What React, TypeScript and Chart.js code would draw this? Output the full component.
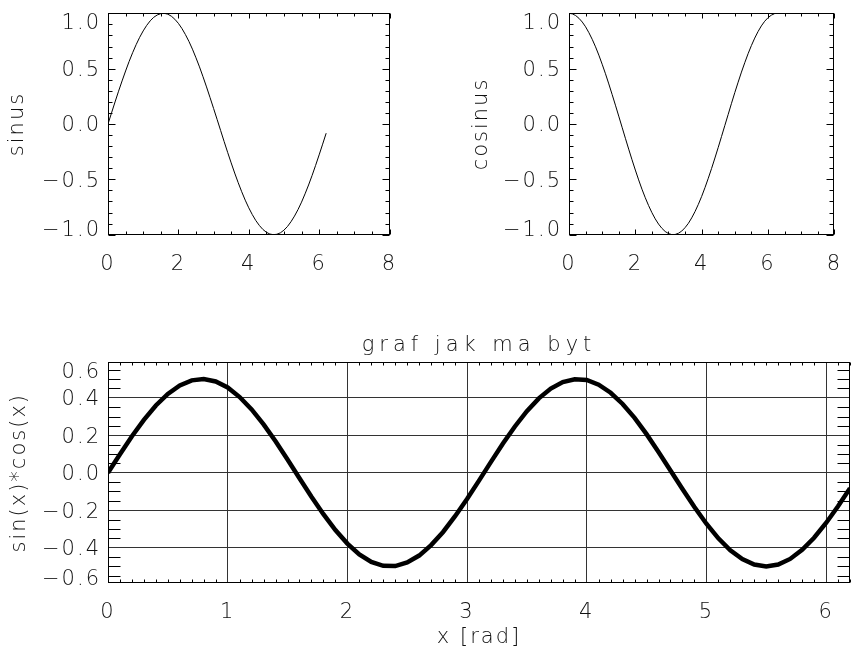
import React, { useEffect, useRef } from 'react';
import { Chart, registerables } from 'chart.js';

Chart.register(...registerables);

// ---------------- data ----------------
const xRad = [
  0, 0.1, 0.2, 0.3, 0.4, 0.5, 0.6, 0.7, 0.8, 0.9, 1.0, 1.1, 1.2, 1.3, 1.4, 1.5,
  1.6, 1.7, 1.8, 1.9, 2.0, 2.1, 2.2, 2.3, 2.4, 2.5, 2.6, 2.7, 2.8, 2.9, 3.0, 3.1,
  3.2, 3.3, 3.4, 3.5, 3.6, 3.7, 3.8, 3.9, 4.0, 4.1, 4.2, 4.3, 4.4, 4.5, 4.6, 4.7,
  4.8, 4.9, 5.0, 5.1, 5.2, 5.3, 5.4, 5.5, 5.6, 5.7, 5.8, 5.9, 6.0, 6.1, 6.2,
];

const sinus = [
  0, 0.1, 0.199, 0.296, 0.389, 0.479, 0.565, 0.644, 0.717, 0.783, 0.841, 0.891, 0.932, 0.964, 0.985, 0.997,
  1.0, 0.992, 0.974, 0.946, 0.909, 0.863, 0.808, 0.746, 0.676, 0.598, 0.516, 0.427, 0.335, 0.239, 0.141, 0.042,
  -0.058, -0.158, -0.256, -0.351, -0.443, -0.53, -0.612, -0.688, -0.757, -0.818, -0.872, -0.916, -0.952, -0.978, -0.994, -1.0,
  -0.996, -0.983, -0.959, -0.926, -0.883, -0.832, -0.773, -0.706, -0.631, -0.551, -0.465, -0.374, -0.279, -0.182, -0.083,
];

const cosinus = [
  1.0, 0.995, 0.98, 0.955, 0.921, 0.878, 0.825, 0.765, 0.697, 0.622, 0.54, 0.454, 0.362, 0.267, 0.17, 0.071,
  -0.029, -0.129, -0.227, -0.323, -0.416, -0.505, -0.589, -0.666, -0.737, -0.801, -0.857, -0.904, -0.942, -0.971, -0.99, -0.999,
  -0.998, -0.987, -0.967, -0.936, -0.897, -0.848, -0.791, -0.726, -0.654, -0.575, -0.49, -0.401, -0.307, -0.211, -0.112, -0.012,
  0.087, 0.187, 0.284, 0.378, 0.469, 0.554, 0.635, 0.709, 0.776, 0.835, 0.886, 0.928, 0.96, 0.983, 0.997,
];

const sinTimesCos = [
  0, 0.099, 0.195, 0.282, 0.359, 0.421, 0.466, 0.493, 0.5, 0.487, 0.455, 0.404, 0.338, 0.258, 0.168, 0.071,
  -0.029, -0.128, -0.221, -0.306, -0.378, -0.436, -0.476, -0.497, -0.498, -0.479, -0.442, -0.386, -0.316, -0.232, -0.14, -0.042,
  0.058, 0.156, 0.247, 0.329, 0.397, 0.449, 0.484, 0.499, 0.495, 0.47, 0.427, 0.367, 0.293, 0.206, 0.111, 0.012,
  -0.087, -0.183, -0.272, -0.35, -0.414, -0.461, -0.49, -0.5, -0.49, -0.46, -0.411, -0.347, -0.268, -0.179, -0.083,
];

// ---------------- ticks / labels ----------------
const topXTicks = [0, 2, 4, 6, 8];
const topXLabels = ['0', '2', '4', '6', '8'];
const topYTicks = [-1, -0.5, 0, 0.5, 1];
const topYLabels = ['\u22121.0', '\u22120.5', '0.0', '0.5', '1.0'];

const botXTicks = [0, 1, 2, 3, 4, 5, 6];
const botXLabels = ['0', '1', '2', '3', '4', '5', '6'];
const botYTicks = [-0.6, -0.4, -0.2, 0, 0.2, 0.4, 0.6];
const botYLabels = ['\u22120.6', '\u22120.4', '\u22120.2', '0.0', '0.2', '0.4', '0.6'];

const mainTitle = 'graf jak ma byt';
const botXTitle = 'x [rad]';
const yTitleSin = 'sinus';
const yTitleCos = 'cosinus';
const yTitleProd = 'sin(x)*cos(x)';

// ---------------- styling ----------------
const FAMILY = '"DejaVu Sans ExtraLight", "DejaVu Sans", sans-serif';
const FWEIGHT = 200;
const FSIZE = 21;
const TEXT = '#111';

const idlPlugin = {
  id: 'idl',
  beforeDraw(chart: any) {
    (chart.ctx as any).letterSpacing = '2px';
  },
  beforeDatasetsDraw(chart: any, _args: any, o: any) {
    const { ctx, chartArea: a } = chart;
    const x = chart.scales.x;
    const y = chart.scales.y;
    ctx.save();
    ctx.strokeStyle = '#000';
    ctx.lineWidth = 1;
    const L = Math.round(a.left) + 0.5;
    const R = Math.round(a.right) - 0.5;
    const T = Math.round(a.top) + 0.5;
    const B = Math.round(a.bottom) - 0.5;
    const walk = (min: number, max: number, step: number, major: number, cb: (v: number, maj: boolean) => void) => {
      const i0 = Math.ceil(min / step - 1e-6);
      const i1 = Math.floor(max / step + 1e-6);
      for (let i = i0; i <= i1; i++) {
        const v = i * step;
        const r = v / major;
        cb(v, Math.abs(r - Math.round(r)) < 1e-6);
      }
    };
    ctx.beginPath();
    walk(x.min, x.max, o.xMinor, o.xMajor, (v, maj) => {
      const len = maj ? o.xMajLen : o.xMinLen;
      if (!len) return;
      const p = Math.round(x.getPixelForValue(v)) + 0.5;
      ctx.moveTo(p, B);
      ctx.lineTo(p, B - len);
      ctx.moveTo(p, T);
      ctx.lineTo(p, T + len);
    });
    walk(y.min, y.max, o.yMinor, o.yMajor, (v, maj) => {
      const len = maj ? o.yMajLen : o.yMinLen;
      if (!len) return;
      const p = Math.round(y.getPixelForValue(v)) + 0.5;
      ctx.moveTo(L, p);
      ctx.lineTo(L + len, p);
      ctx.moveTo(R, p);
      ctx.lineTo(R - len, p);
    });
    ctx.stroke();
    ctx.strokeRect(L, T, R - L, B - T);
    ctx.restore();
  },
  afterDraw(chart: any, _args: any, o: any) {
    const { ctx, chartArea: a } = chart;
    const y = chart.scales.y;
    ctx.save();
    ctx.font = `${FWEIGHT} ${FSIZE}px ${FAMILY}`;
    ctx.fillStyle = TEXT;
    ctx.textAlign = 'right';
    ctx.textBaseline = 'middle';
    (o.yValues as number[]).forEach((v, i) => {
      let p = y.getPixelForValue(v);
      p = Math.max(a.top + 8, Math.min(a.bottom - 6, p));
      ctx.fillText(o.yLabels[i], a.left - 7, p + 2);
    });
    ctx.restore();
  },
};

function makeConfig(p: any) {
  const data = xRad.map((xv, i) => ({ x: xv, y: p.values[i] }));
  const font = { family: FAMILY, size: FSIZE, weight: FWEIGHT };
  return {
    type: 'line',
    data: {
      datasets: [
        {
          data,
          borderColor: '#000',
          borderWidth: p.lineWidth,
          pointRadius: 0,
          tension: 0,
          fill: false,
        },
      ],
    },
    plugins: [idlPlugin],
    options: {
      animation: false,
      responsive: false,
      maintainAspectRatio: false,
      events: [],
      layout: { padding: p.padding },
      plugins: {
        legend: { display: false },
        tooltip: { enabled: false },
        title: p.title
          ? {
              display: true,
              text: p.title,
              color: TEXT,
              font,
              fullSize: false,
              padding: { top: 43, bottom: 4 },
            }
          : { display: false },
        idl: p.idl,
      },
      scales: {
        x: {
          type: 'linear',
          min: p.xMin,
          max: p.xMax,
          afterFit: (s: any) => {
            s.height = p.xHeight;
          },
          afterBuildTicks: (s: any) => {
            s.ticks = p.xTicks.map((v: number) => ({ value: v }));
          },
          ticks: {
            color: TEXT,
            padding: 17,
            maxRotation: 0,
            autoSkip: false,
            font,
            callback: (_v: any, i: number) => p.xLabels[i],
          },
          grid: {
            display: p.grid,
            drawTicks: false,
            color: '#333',
            lineWidth: 1,
          },
          border: { display: false },
          title: p.xTitle
            ? {
                display: true,
                text: p.xTitle,
                color: TEXT,
                font,
                padding: { top: 0, bottom: 0 },
              }
            : { display: false },
        },
        y: {
          type: 'linear',
          min: p.yMin,
          max: p.yMax,
          afterFit: (s: any) => {
            s.width = p.yWidth;
          },
          afterBuildTicks: (s: any) => {
            s.ticks = p.yTicks
              .filter((v: number) => v >= s.min - 1e-9 && v <= s.max + 1e-9)
              .map((v: number) => ({ value: v }));
          },
          ticks: { display: false },
          grid: {
            display: p.grid,
            drawTicks: false,
            color: '#333',
            lineWidth: 1,
          },
          border: { display: false },
          title: {
            display: true,
            text: p.yTitle,
            color: TEXT,
            font,
            padding: { top: p.yTitlePad, bottom: 0 },
          },
        },
      },
    },
  } as any;
}

const cfgSin = makeConfig({
  values: sinus,
  lineWidth: 1,
  padding: { top: 13.3, right: 39.5, bottom: 0, left: 0 },
  xHeight: 55.3,
  yWidth: 108,
  xMin: 0,
  xMax: 8,
  yMin: -1,
  yMax: 1,
  xTicks: topXTicks,
  xLabels: topXLabels,
  yTicks: topYTicks,
  grid: false,
  yTitle: yTitleSin,
  yTitlePad: 5,
  idl: {
    xMinor: 0.5, xMajor: 2, xMajLen: 5, xMinLen: 3,
    yMinor: 0.1, yMajor: 0.5, yMajLen: 7, yMinLen: 4,
    yValues: topYTicks, yLabels: topYLabels,
  },
});

const cfgCos = makeConfig({
  values: cosinus,
  lineWidth: 1,
  padding: { top: 13.3, right: 8, bottom: 0, left: 0 },
  xHeight: 55.3,
  yWidth: 140,
  xMin: 0,
  xMax: 8,
  yMin: -1,
  yMax: 1,
  xTicks: topXTicks,
  xLabels: topXLabels,
  yTicks: topYTicks,
  grid: false,
  yTitle: yTitleCos,
  yTitlePad: 40,
  idl: {
    xMinor: 0.5, xMajor: 2, xMajLen: 5, xMinLen: 3,
    yMinor: 0.1, yMajor: 0.5, yMajLen: 7, yMinLen: 4,
    yValues: topYTicks, yLabels: topYLabels,
  },
});

const cfgProd = makeConfig({
  values: sinTimesCos,
  lineWidth: 4.5,
  padding: { top: 0, right: 8, bottom: 0, left: 0 },
  xHeight: 66.7,
  yWidth: 108,
  xMin: 0,
  xMax: 6.2,
  yMin: -0.59,
  yMax: 0.59,
  xTicks: botXTicks,
  xLabels: botXLabels,
  yTicks: botYTicks,
  grid: true,
  title: mainTitle,
  xTitle: botXTitle,
  yTitle: yTitleProd,
  yTitlePad: 6.5,
  idl: {
    xMinor: 0.1, xMajor: 1, xMajLen: 0, xMinLen: 3,
    yMinor: 0.05, yMajor: 0.2, yMajLen: 0, yMinLen: 12,
    yValues: botYTicks, yLabels: botYLabels,
  },
});

// the plot title uses a wider letter spacing than the axis texts
function widenTitle(chart: any) {
  const tb = chart.titleBlock;
  if (!tb) return;
  const orig = tb.draw.bind(tb);
  tb.draw = (...args: any[]) => {
    const ctx = chart.ctx as any;
    const prev = ctx.letterSpacing;
    ctx.letterSpacing = '5px';
    orig(...args);
    ctx.letterSpacing = prev;
  };
  chart.draw();
}

export default function App() {
  const r1 = useRef<HTMLCanvasElement>(null);
  const r2 = useRef<HTMLCanvasElement>(null);
  const r3 = useRef<HTMLCanvasElement>(null);

  useEffect(() => {
    const charts = [
      new Chart(r1.current as HTMLCanvasElement, cfgSin),
      new Chart(r2.current as HTMLCanvasElement, cfgCos),
      new Chart(r3.current as HTMLCanvasElement, cfgProd),
    ];
    widenTitle(charts[2]);
    return () => charts.forEach((c) => c.destroy());
  }, []);

  const cs = (l: number, t: number, w: number, h: number): React.CSSProperties => ({
    position: 'absolute',
    left: l,
    top: t,
    width: w,
    height: h,
    display: 'block',
  });

  return (
    <div style={{ position: 'fixed', left: 0, top: 0, width: 858, height: 650, background: '#fff' }}>
      <canvas ref={r1} width={429} height={290} style={cs(0, 0, 429, 290)} />
      <canvas ref={r2} width={429} height={290} style={cs(429, 0, 429, 290)} />
      <canvas ref={r3} width={858} height={360} style={cs(0, 290, 858, 360)} />
    </div>
  );
}
